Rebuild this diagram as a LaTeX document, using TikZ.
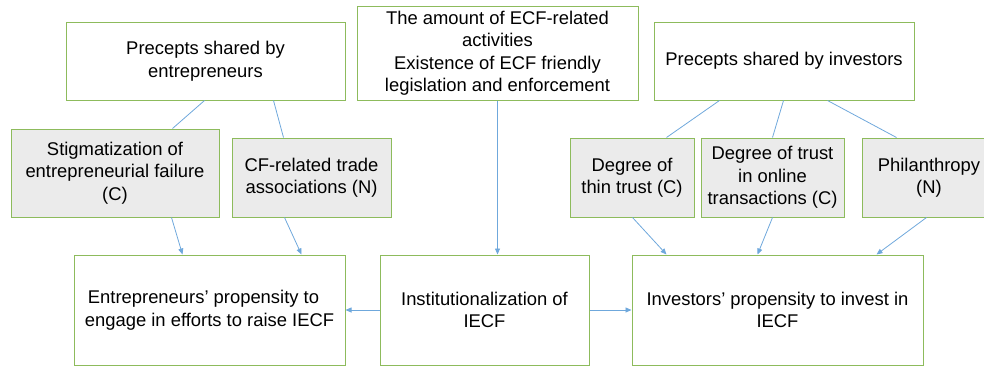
\documentclass[tikz,border=0pt]{standalone}
\usepackage{fontspec}
\setmainfont{Liberation Sans}
\usetikzlibrary{arrows.meta}
\definecolor{boxgreen}{HTML}{8DBB5C}
\definecolor{boxgray}{HTML}{EBEBEB}
\definecolor{linkblue}{HTML}{6FA8DC}
\tikzset{
  box/.style={draw=boxgreen, line width=1pt, inner sep=0pt, align=center, fill=white,
    font=\fontsize{18.4}{22.5}\selectfont},
  graybox/.style={box, fill=boxgray},
  link/.style={draw=linkblue, line width=0.8pt},
  arr/.style={link, -{Triangle[length=6pt,width=5pt]}},
}
\begin{document}
\begin{tikzpicture}[x=1pt,y=-1pt]
\useasboundingbox (0,0) rectangle (984,367);
% top row
\node[box, minimum width=279pt, minimum height=78pt] (A) at (205.5,61) {Precepts shared by\\entrepreneurs};
\node[box, minimum width=281pt, minimum height=94pt] (B) at (497.5,53) {The amount of ECF-related\\activities\\Existence of ECF friendly\\legislation and enforcement};
\node[box, minimum width=260pt, minimum height=78pt] (C) at (784,61) {Precepts shared by investors};
% middle row
\node[graybox, minimum width=208pt, minimum height=88pt] (S1) at (115,173) {Stigmatization of\\entrepreneurial failure\\(C)};
\node[graybox, minimum width=159pt, minimum height=79pt] (S2) at (311.5,177.5) {CF-related trade\\associations (N)};
\node[graybox, minimum width=124pt, minimum height=79pt] (S3) at (632,177.5) {Degree of\\thin trust (C)};
\node[graybox, minimum width=143pt, minimum height=79pt] (S4) at (772.5,177.5) {Degree of trust\\in online\\transactions (C)};
\node[graybox, minimum width=134pt, minimum height=79pt] (S5) at (929,177.5) {Philanthropy\\(N)};
% bottom row
\node[box, minimum width=271pt, minimum height=110pt] (E) at (209.5,310) {\hspace*{-12pt}Entrepreneurs’ propensity to\\engage in efforts to raise IECF\hspace*{0pt}};
\node[box, minimum width=209pt, minimum height=110pt] (I) at (484.5,310) {Institutionalization of\\IECF};
\node[box, minimum width=291pt, minimum height=110pt] (V) at (777.5,310) {Investors’ propensity to invest in\\IECF};
% plain links
\draw[link] ([xshift=139pt]A.south west) -- ([xshift=162pt]S1.north west);
\draw[link] ([xshift=208pt]A.south west) -- ([xshift=52pt]S2.north west);
\draw[link] ([xshift=66pt]C.south west) -- ([xshift=97pt]S3.north west);
\draw[link] ([xshift=130pt]C.south west) -- ([xshift=72pt]S4.north west);
\draw[link] ([xshift=174pt]C.south west) -- ([xshift=35pt]S5.north west);
% arrows
\draw[arr] (B.south) -- (B.south |- I.north);
\draw[arr] ([xshift=161pt]S1.south west) -- ([xshift=109pt]E.north west);
\draw[arr] ([xshift=53pt]S2.south west) -- ([xshift=228pt]E.north west);
\draw[arr] ([xshift=63pt]S3.south west) -- ([xshift=35pt]V.north west);
\draw[arr] ([xshift=72pt]S4.south west) -- ([xshift=126pt]V.north west);
\draw[arr] ([xshift=65pt]S5.south west) -- ([xshift=245pt]V.north west);
\draw[arr] (I.west) -- (E.east);
\draw[arr] (I.east) -- (V.west);
\end{tikzpicture}
\end{document}
